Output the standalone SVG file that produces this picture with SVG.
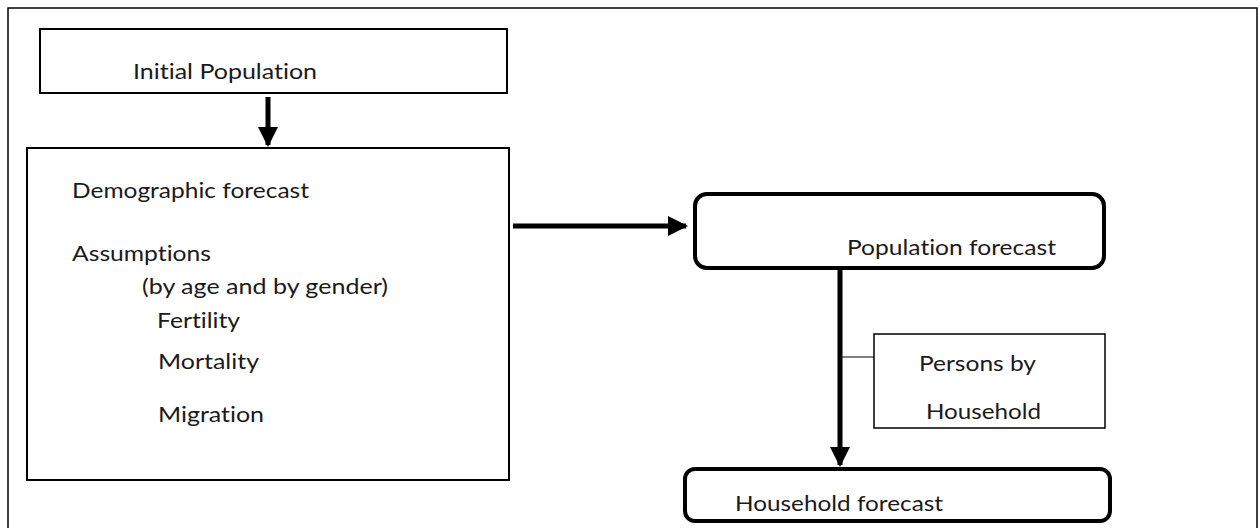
<svg xmlns="http://www.w3.org/2000/svg" width="1260" height="528" viewBox="0 0 1260 528">
<style>
.t{font-family:"Lato","Liberation Sans",sans-serif;font-size:22px;fill:#1a1a1a;font-variant-ligatures:none}
.box{fill:#fff;stroke:#000;stroke-width:2}
.rbox{fill:#fff;stroke:#000;stroke-width:4}
.thick{stroke:#000;stroke-width:5;fill:none}
</style>
<defs>
<marker id="ah" markerWidth="4" markerHeight="4" refX="3.6" refY="2" orient="auto" markerUnits="strokeWidth">
<path d="M0,0 L4,2 L0,4 Z" fill="#000"/>
</marker>
</defs>
<rect x="0" y="0" width="1260" height="528" fill="#fff"/>
<rect x="8" y="8" width="1249" height="540" fill="none" stroke="#000" stroke-width="1.5"/>
<g id="initial">
<rect class="box" x="40" y="29" width="467" height="64"/>
<text class="t" x="133" y="79" textLength="184" lengthAdjust="spacingAndGlyphs">Initial Population</text>
</g>
<g id="demographic">
<rect class="box" x="27" y="148" width="482" height="332"/>
<text class="t" x="72" y="198" textLength="237" lengthAdjust="spacingAndGlyphs">Demographic forecast</text>
<text class="t" x="72" y="261" textLength="139" lengthAdjust="spacingAndGlyphs">Assumptions</text>
<text class="t" x="142" y="294" textLength="246" lengthAdjust="spacingAndGlyphs">(by age and by gender)</text>
<text class="t" x="157" y="328" textLength="83" lengthAdjust="spacingAndGlyphs">Fertility</text>
<text class="t" x="158" y="369" textLength="101" lengthAdjust="spacingAndGlyphs">Mortality</text>
<text class="t" x="158" y="422" textLength="106" lengthAdjust="spacingAndGlyphs">Migration</text>
</g>
<g id="population">
<rect class="rbox" x="695" y="194" width="409" height="74" rx="12"/>
<text class="t" x="847" y="255" textLength="209" lengthAdjust="spacingAndGlyphs">Population forecast</text>
</g>
<g id="persons">
<rect x="874" y="334" width="231" height="94" fill="#fff" stroke="#000" stroke-width="1.5"/>
<text class="t" x="919" y="371" textLength="117" lengthAdjust="spacingAndGlyphs">Persons by</text>
<text class="t" x="926" y="419" textLength="115" lengthAdjust="spacingAndGlyphs">Household</text>
</g>
<g id="household">
<rect class="rbox" x="685" y="469" width="425" height="52" rx="10"/>
<text class="t" x="735" y="511" textLength="208" lengthAdjust="spacingAndGlyphs">Household forecast</text>
</g>
<g id="connectors">
<line class="thick" x1="268" y1="97" x2="268" y2="145" marker-end="url(#ah)"/>
<line class="thick" x1="513" y1="226" x2="686" y2="226" marker-end="url(#ah)"/>
<line class="thick" x1="840" y1="268" x2="840" y2="465" marker-end="url(#ah)"/>
<line x1="840" y1="357" x2="874" y2="357" stroke="#000" stroke-width="1"/>
</g>
</svg>
